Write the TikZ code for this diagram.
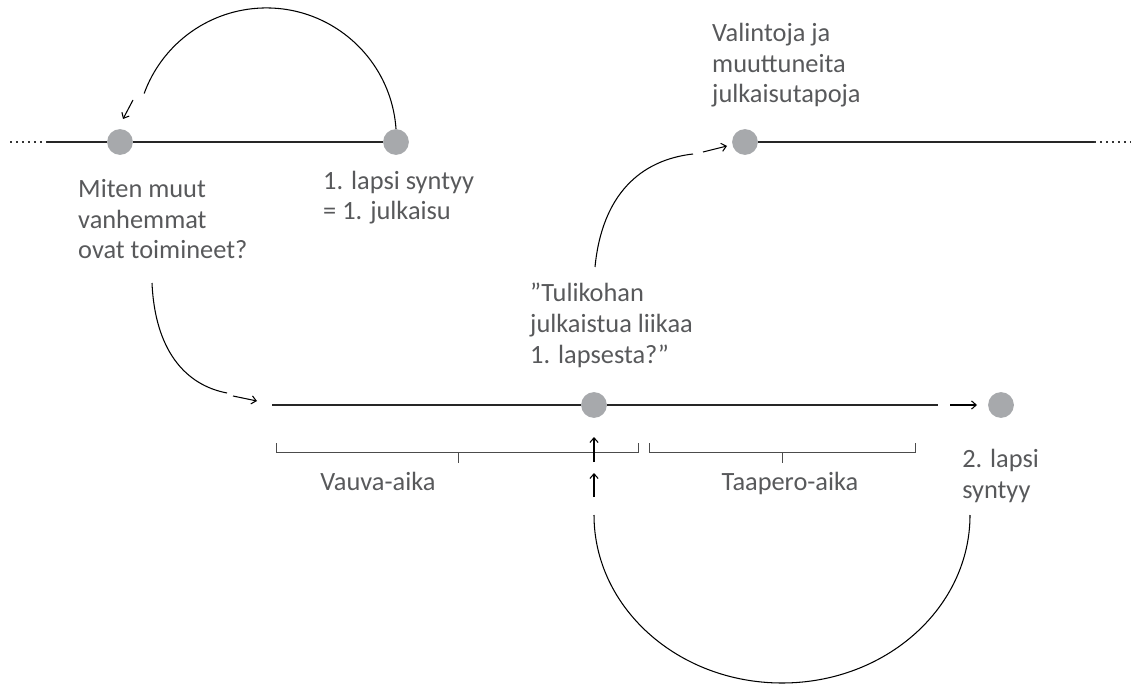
\documentclass[tikz,border=0pt]{standalone}
\usepackage{fontspec}
\setmainfont{Carlito}
\usetikzlibrary{arrows.meta}
\definecolor{dotgray}{HTML}{A7A9AC}
\definecolor{txtgray}{HTML}{58595B}
\tikzset{
	pt/.style={circle,fill=dotgray,minimum size=22pt,inner sep=0pt},
	lbl/.style={text=txtgray,font=\fontsize{22.5}{26.4}\selectfont,align=left,inner sep=0pt,anchor=base west},
	tl/.style={line width=1.6pt,black!85},
	tail/.style={line width=1.6pt,black!80,dash pattern=on 1.6pt off 3.5pt},
	arc/.style={line width=0.9pt},
	br/.style={line width=0.8pt,black!70}
}
\begin{document}
\begin{tikzpicture}[x=0.03cm,y=-0.03cm,>={Straight Barb[length=4pt,width=7pt]}]
	\useasboundingbox (0,0) rectangle (1132,684);
	% upper line
	\coordinate (lend) at (10,142);
	\coordinate (ltail) at (47,142);
	\coordinate (rtail) at (1094,142);
	\coordinate (rend) at (1131,142);
	\node[pt] (dotA) at (120,142) {};
	\node[pt] (dotB) at (396,142) {};
	\node[pt] (dotC) at (745,142) {};
	\draw[tail] (lend)--(ltail);
	\draw[tl] (ltail)--(dotA)--(dotB);
	\draw[tl] (dotC)--(rtail);
	\draw[tail] (rtail)--(rend);
	% lower line
	\coordinate (bstart) at (272,405);
	\coordinate (bend) at (938,405);
	\node[pt] (dotD) at (594,405) {};
	\node[pt] (dotE) at (1001,405) {};
	\draw[tl] (bstart)--(dotD)--(bend);
	\coordinate (e1) at (950,405);
	\coordinate (e2) at (977,405);
	\draw[arc,->] (e1)--(e2);
	% brackets
	\draw[br] (276,443) |- (638,452) -- (638,443);
	\draw[br] (458,452)--(458,463);
	\draw[br] (649,443) |- (915,452) -- (915,443);
	\draw[br] (782,452)--(782,463);
	\node[lbl,anchor=base] (vauva) at (378,490) {Vauva-aika};
	\node[lbl,anchor=base] (taapero) at (790,490) {Taapero-aika};
	% labels (base = last line)
	\node[lbl] (miten) at (78,259) {Miten muut\\vanhemmat\\ovat toimineet?};
	\node[lbl] (eka) at (323,220) {1. lapsi syntyy\\= 1. julkaisu};
	\node[lbl] (valinta) at (712,103) {Valintoja ja\\muuttuneita\\julkaisutapoja};
	\node[lbl] (tuli) at (530,363) {”Tulikohan\\julkaistua liikaa\\1. lapsesta?”};
	\node[lbl] (toka) at (962,498) {2. lapsi\\syntyy};
	% curved arrows
	\coordinate (a1) at (133,100);
	\coordinate (a2) at (123,119);
	\draw[arc] (dotB.north) arc[start angle=-4,end angle=-160,radius=130];
	\draw[arc,->] (a1)--(a2);
	\coordinate (c0) at (152,283);
	\coordinate (c1) at (227,393);
	\coordinate (c2) at (233,396);
	\coordinate (c3) at (257,401);
	\draw[arc] (c0) .. controls (155,350) and (185,385) .. (c1);
	\draw[arc,->] (c2)--(c3);
	\coordinate (u0) at (595,267);
	\coordinate (u1) at (693,154);
	\coordinate (u2) at (703,152);
	\coordinate (u3) at (727,146);
	\draw[arc] (u0) .. controls (602,195) and (640,160) .. (u1);
	\draw[arc,->] (u2)--(u3);
	\coordinate (d0) at (970,515);
	\draw[arc] (d0) arc[start angle=0,end angle=180,x radius=188,y radius=168];
	\coordinate (v1) at (594,497);
	\coordinate (v2) at (594,473);
	\coordinate (v3) at (594,462);
	\coordinate (v4) at (594,437);
	\draw[arc,->] (v1)--(v2);
	\draw[arc,->] (v3)--(v4);
\end{tikzpicture}
\end{document}
